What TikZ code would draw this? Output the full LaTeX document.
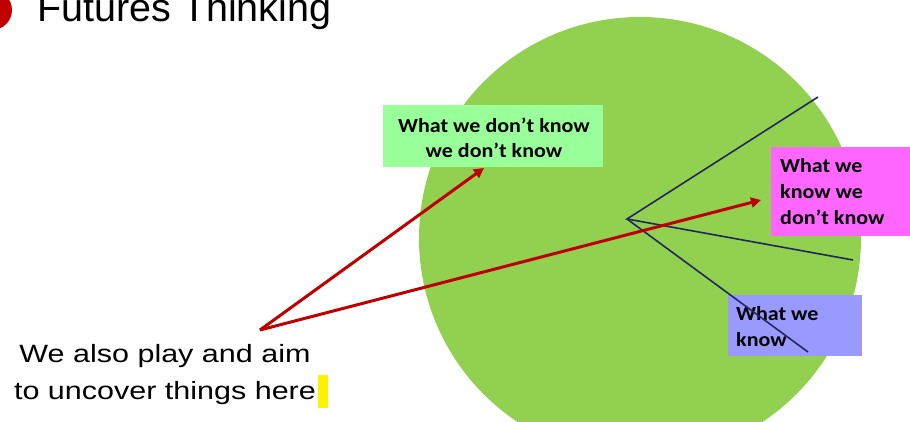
\documentclass[tikz,border=0pt]{standalone}
\usepackage{fontspec}
\setmainfont{Liberation Sans}
\newfontfamily\widesans[FakeStretch=1.22]{Liberation Sans}
\newfontfamily\boxfont[FakeStretch=1.1]{Carlito}
\usetikzlibrary{arrows.meta}
\definecolor{circgreen}{HTML}{92D050}
\definecolor{boxgreen}{HTML}{99FF99}
\definecolor{boxpink}{HTML}{FF66FF}
\definecolor{boxblue}{HTML}{9999FF}
\definecolor{navy}{HTML}{1F2A5C}
\definecolor{arrred}{HTML}{C00000}
\tikzset{
  boxtext/.style={inner sep=0pt, font=\boxfont\bfseries\fontsize{20}{26}\selectfont, text=black},
  ray/.style={draw=navy, line width=1.6pt},
  redarrow/.style={draw=arrred, line width=3pt, -{Triangle[length=10pt,width=10pt]}}
}
\begin{document}
\begin{tikzpicture}[x=1pt,y=-1pt]
\useasboundingbox (0,0) rectangle (910,422);
\clip (0,0) rectangle (910,422);
% circle
\fill[circgreen] (640,238) circle (221);
% title
\fill[arrred] (-8,10) circle (20);
\node[anchor=base west, inner sep=0pt, font=\fontsize{39.5}{40}\selectfont] (title) at (37,22) {Futures Thinking};
% boxes
\node[fill=boxgreen, minimum width=220, minimum height=62, inner sep=0pt, anchor=north west] (dkdk) at (383,105) {};
\node[boxtext, align=center, font=\boxfont\bfseries\fontsize{20}{25}\selectfont] (dkdkt) at (494,138) {What we don’t know\\we don’t know};
\node[fill=boxpink, minimum width=150, minimum height=89, inner sep=0pt, anchor=north west] (kdk) at (771,147) {};
\node[boxtext, align=left, anchor=north west] (kdkt) at (780,158) {What we\\know we\\don’t know};
\node[fill=boxblue, minimum width=134, minimum height=61, inner sep=0pt, anchor=north west] (kn) at (728,295) {};
% rays
\coordinate (o) at (627,219);
\coordinate (e1) at (818,97);
\coordinate (e2) at (853,260);
\coordinate (e3) at (808,352);
\draw[ray] (e1) -- (o) -- (e2);
\node[boxtext, align=left, anchor=north west] (knt) at (736,306) {What we\\know};
\draw[ray] (o) -- (e3);
% red arrows
\coordinate (src) at (260,330);
\coordinate (t1) at (484,168);
\coordinate (t2) at (761,200);
\draw[redarrow] (src) -- (t1);
\draw[redarrow] (src) -- (t2);
% bottom text
\node[align=center, inner sep=0pt, anchor=north, font=\widesans\fontsize{25}{37}\selectfont] (txt) at (165,344) {We also play and aim\\to uncover things here};
\fill[yellow] (318,375) rectangle (328,408);
\end{tikzpicture}
\end{document}
